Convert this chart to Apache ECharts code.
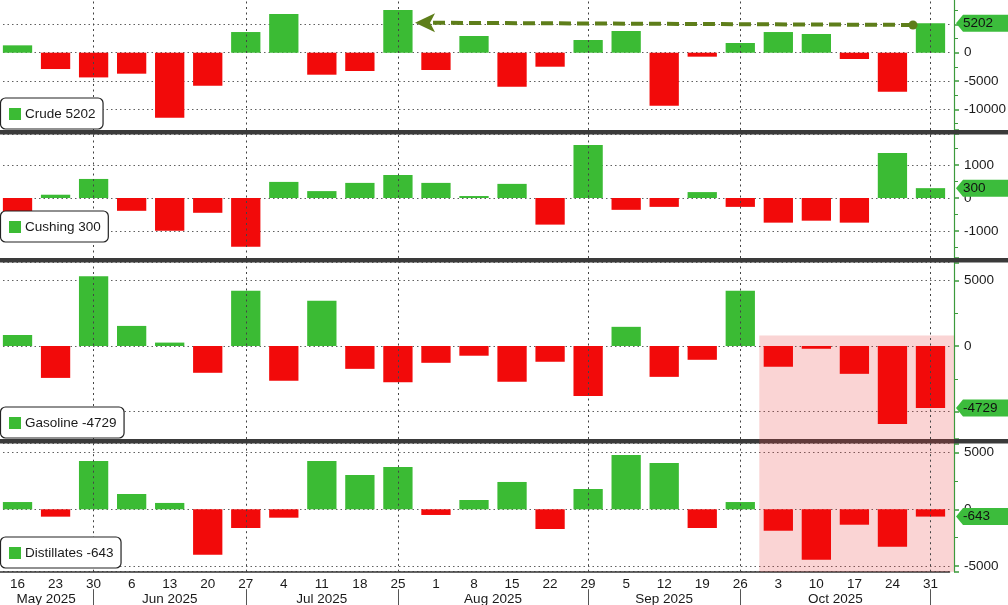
<!DOCTYPE html>
<html><head><meta charset="utf-8">
<script src="https://cdn.jsdelivr.net/npm/echarts@6/dist/echarts.min.js"></script>
<style>html,body{margin:0;padding:0;background:#fff;overflow:hidden}#c{width:1008px;height:605px}</style>
</head><body><div id="c"></div>
<script>
// ---------- data ----------
const weeks = ['2025-05-16','2025-05-23','2025-05-30','2025-06-06','2025-06-13','2025-06-20','2025-06-27',
  '2025-07-04','2025-07-11','2025-07-18','2025-07-25','2025-08-01','2025-08-08','2025-08-15','2025-08-22',
  '2025-08-29','2025-09-05','2025-09-12','2025-09-19','2025-09-26','2025-10-03','2025-10-10','2025-10-17',
  '2025-10-24','2025-10-31'];
const crude = [1300,-2880,-4360,-3700,-11470,-5830,3650,6850,-3880,-3230,7540,-3050,2950,-6000,-2470,2240,3830,-9350,-700,1710,3650,3300,-1110,-6880,5202];
const cushing = [-450,100,580,-390,-1000,-450,-1480,490,210,460,700,460,60,430,-810,1610,-360,-270,180,-270,-750,-690,-750,1370,300];
const gasoline = [840,-2430,5310,1530,260,-2040,4210,-2650,3450,-1740,-2760,-1280,-740,-2730,-1200,-3800,1460,-2350,-1050,4210,-1580,-210,-2120,-5950,-4729];
const distillates = [640,-650,4260,1350,560,-4000,-1650,-740,4260,3030,3730,-500,820,2410,-1740,1790,4790,4080,-1650,640,-1890,-4450,-1360,-3300,-643];
const seriesNames = ['Crude','Cushing','Gasoline','Distillates'];
const monthLabels = ['May 2025','Jun 2025','Jul 2025','Aug 2025','Sep 2025','Oct 2025'];
const yStep = [5000,1000,5000,5000];
const shadeFromWeek = '2025-10-03';
const shadeGasolineTop = 800;
const arrowFromWeek = '2025-10-31', arrowToWeek = '2025-07-25';
const arrowFromValue = 4900, arrowToValue = 5300;

const seriesData = [crude, cushing, gasoline, distillates];

// ---------- style / layout ----------
const F = '"Liberation Sans",Arial,sans-serif';
const FS = 13.5;
const GREEN = '#3bbb34', RED = '#f20a0a', AXISG = '#3c9a3c', OLIVE = '#5e7e1a';
const gridTop = [-1, 134, 262.5, 443.5];
const gridHeight = [131, 124, 176.5, 128.2];
const yMin = [-13640, -1826, -7083, -5503];
const yMax = [9480, 1948, 6360, 5802];
const legendTop = [98, 211, 407, 537];
const separators = [[130, 4.5], [258, 4.5], [439, 4.5]];
const GL = -1.5, GR = 58.5, AXOFF = 4.5;

const monthEndIdx = [];
weeks.forEach((w, i) => { const n = weeks[i + 1]; if (!n || n.slice(5, 7) !== w.slice(5, 7)) monthEndIdx.push(i); });
const monthMid = monthEndIdx.map((e, k) => ((k ? monthEndIdx[k - 1] : -0.5) + e) / 2);

const grids = [], xAxes = [], yAxes = [], series = [];
for (let i = 0; i < 4; i++) {
  grids.push({ left: GL, right: GR, top: gridTop[i], height: gridHeight[i], containLabel: false, outerBoundsMode: 'none' });
  xAxes.push({
    gridIndex: i, type: 'category', data: weeks, show: i === 3, position: 'bottom',
    axisLine: { show: true, onZero: false, lineStyle: { color: '#333', width: 1.5 } },
    axisTick: { show: false },
    axisLabel: { interval: 0, color: '#1a1a1a', fontSize: FS, fontFamily: F, margin: 6,
      formatter: d => String(+d.slice(8)) },
    splitLine: { show: false }
  });
  const step = yStep[i];
  yAxes.push({
    gridIndex: i, type: 'value', position: 'right', offset: AXOFF,
    min: yMin[i], max: yMax[i], minInterval: step, maxInterval: step,
    axisLine: { show: true, onZero: false, lineStyle: { color: AXISG, width: 1.2 } },
    axisTick: { show: true, length: 5, lineStyle: { color: AXISG, width: 1.5 } },
    minorTick: { show: true, splitNumber: 2, length: 4, lineStyle: { color: AXISG } },
    axisLabel: { color: '#1a1a1a', fontSize: FS, fontFamily: F, margin: 10, showMinLabel: false, showMaxLabel: false,
      formatter: v => (Math.abs(v % step) < 1e-6 ? String(v) : '') },
    splitLine: { show: true, lineStyle: { color: '#606060', type: [1.5, 3], width: 1 } },
    minorSplitLine: { show: false }
  });
  series.push({
    type: 'bar', name: seriesNames[i], xAxisIndex: i, yAxisIndex: i, barCategoryGap: '23%', z: 2,
    data: seriesData[i].map(v => ({ value: v, itemStyle: { color: v >= 0 ? GREEN : RED } }))
  });
}
for (let i = 0; i < 4; i++) {
  series.push({
    type: 'line', xAxisIndex: i, yAxisIndex: i, data: [], z: 1, silent: true,
    markLine: { silent: true, symbol: ['none', 'none'], label: { show: false }, animation: false,
      lineStyle: { color: '#444', type: [2, 3.5], width: 1 },
      data: monthEndIdx.map(k => ({ xAxis: weeks[k] })) }
  });
}
// month axis
xAxes.push({
  gridIndex: 3, type: 'value', min: -0.5, max: 24.5, position: 'bottom', offset: 17.5,
  axisLine: { show: false, onZero: false },
  axisTick: { show: true, customValues: monthEndIdx, length: 16, lineStyle: { color: '#555' } },
  axisLabel: { customValues: monthMid, color: '#1a1a1a', fontSize: FS, fontFamily: F, margin: 3,
    formatter: v => { const k = monthMid.indexOf(v); return k >= 0 ? monthLabels[k] : ''; } },
  splitLine: { show: false }
});

const chart = echarts.init(document.getElementById('c'), null, { renderer: 'canvas' });
chart.setOption({ animation: false, backgroundColor: '#fff', grid: grids, xAxis: xAxes, yAxis: yAxes, series: series });

// ---------- annotations ----------
const P = (s, cat, v) => chart.convertToPixel({ seriesIndex: s }, [cat, v]);
const band = P(0, weeks[1], 0)[0] - P(0, weeks[0], 0)[0];
const axisX = P(0, weeks[weeks.length - 1], 0)[0] + band / 2 + AXOFF;
const ctx = document.createElement('canvas').getContext('2d');
ctx.font = FS + 'px ' + F;
const els = [];
separators.forEach(([y, h]) => els.push({ type: 'rect', z: 1, shape: { x: 0, y: y, width: 1008, height: h }, style: { fill: '#3a3a3a' } }));
// shaded zone
const si = weeks.indexOf(shadeFromWeek);
const sx0 = (P(2, weeks[si - 1], 0)[0] + P(2, weeks[si], 0)[0]) / 2;
const sy0 = P(2, weeks[si], shadeGasolineTop)[1];
const sy1 = P(3, weeks[si], yMin[3])[1];
els.push({ type: 'rect', z: 1.5, shape: { x: sx0, y: sy0, width: axisX - sx0, height: sy1 - sy0 }, style: { fill: 'rgba(232,60,60,0.22)' } });
// arrow
const a0 = P(0, arrowFromWeek, arrowFromValue); a0[0] -= band * 0.46;
const a1 = P(0, arrowToWeek, arrowToValue); a1[0] += band * 0.45;
const ah = 18, hw = 9.5;
const slope = (a0[1] - a1[1]) / (a0[0] - a1[0]);
const bx = a1[0] + ah, by = a1[1] + slope * ah;
els.push({ type: 'polyline', z: 10, shape: { points: [a0, [bx, by]] }, style: { stroke: OLIVE, lineWidth: 4, lineDash: [12, 6], fill: null } });
els.push({ type: 'polygon', z: 10, shape: { points: [a1, [bx + 2, by - hw], [bx - 3, by], [bx + 2, by + hw]] }, style: { fill: OLIVE } });
els.push({ type: 'circle', z: 10, shape: { cx: a0[0], cy: a0[1], r: 4.5 }, style: { fill: OLIVE } });
// legends + tags
for (let i = 0; i < 4; i++) {
  const last = seriesData[i][seriesData[i].length - 1];
  const txt = seriesNames[i] + ' ' + last;
  const w = ctx.measureText(txt).width + 32;
  const t = legendTop[i];
  els.push({ type: 'rect', z: 10, shape: { x: 0.5, y: t, width: w, height: 31, r: 5 }, style: { fill: '#fff', stroke: '#222', lineWidth: 1.2 } });
  els.push({ type: 'rect', z: 11, shape: { x: 9, y: t + 10, width: 12, height: 12 }, style: { fill: GREEN } });
  els.push({ type: 'text', z: 11, style: { text: txt, x: 25, y: t + 16, font: FS + 'px ' + F, fill: '#1a1a1a', verticalAlign: 'middle', textVerticalAlign: 'middle' } });
  const yc = P(i, weeks[weeks.length - 1], last)[1];
  const tx = axisX + 2;
  els.push({ type: 'polygon', z: 10, shape: { points: [[tx, yc], [tx + 7, yc - 8.5], [1008, yc - 8.5], [1008, yc + 8.5], [tx + 7, yc + 8.5]] }, style: { fill: '#3cbc3c' } });
  els.push({ type: 'text', z: 11, style: { text: String(last), x: tx + 7, y: yc, font: FS + 'px ' + F, fill: '#111', verticalAlign: 'middle', textVerticalAlign: 'middle' } });
}
chart.setOption({ graphic: { elements: els } });
</script></body></html>
